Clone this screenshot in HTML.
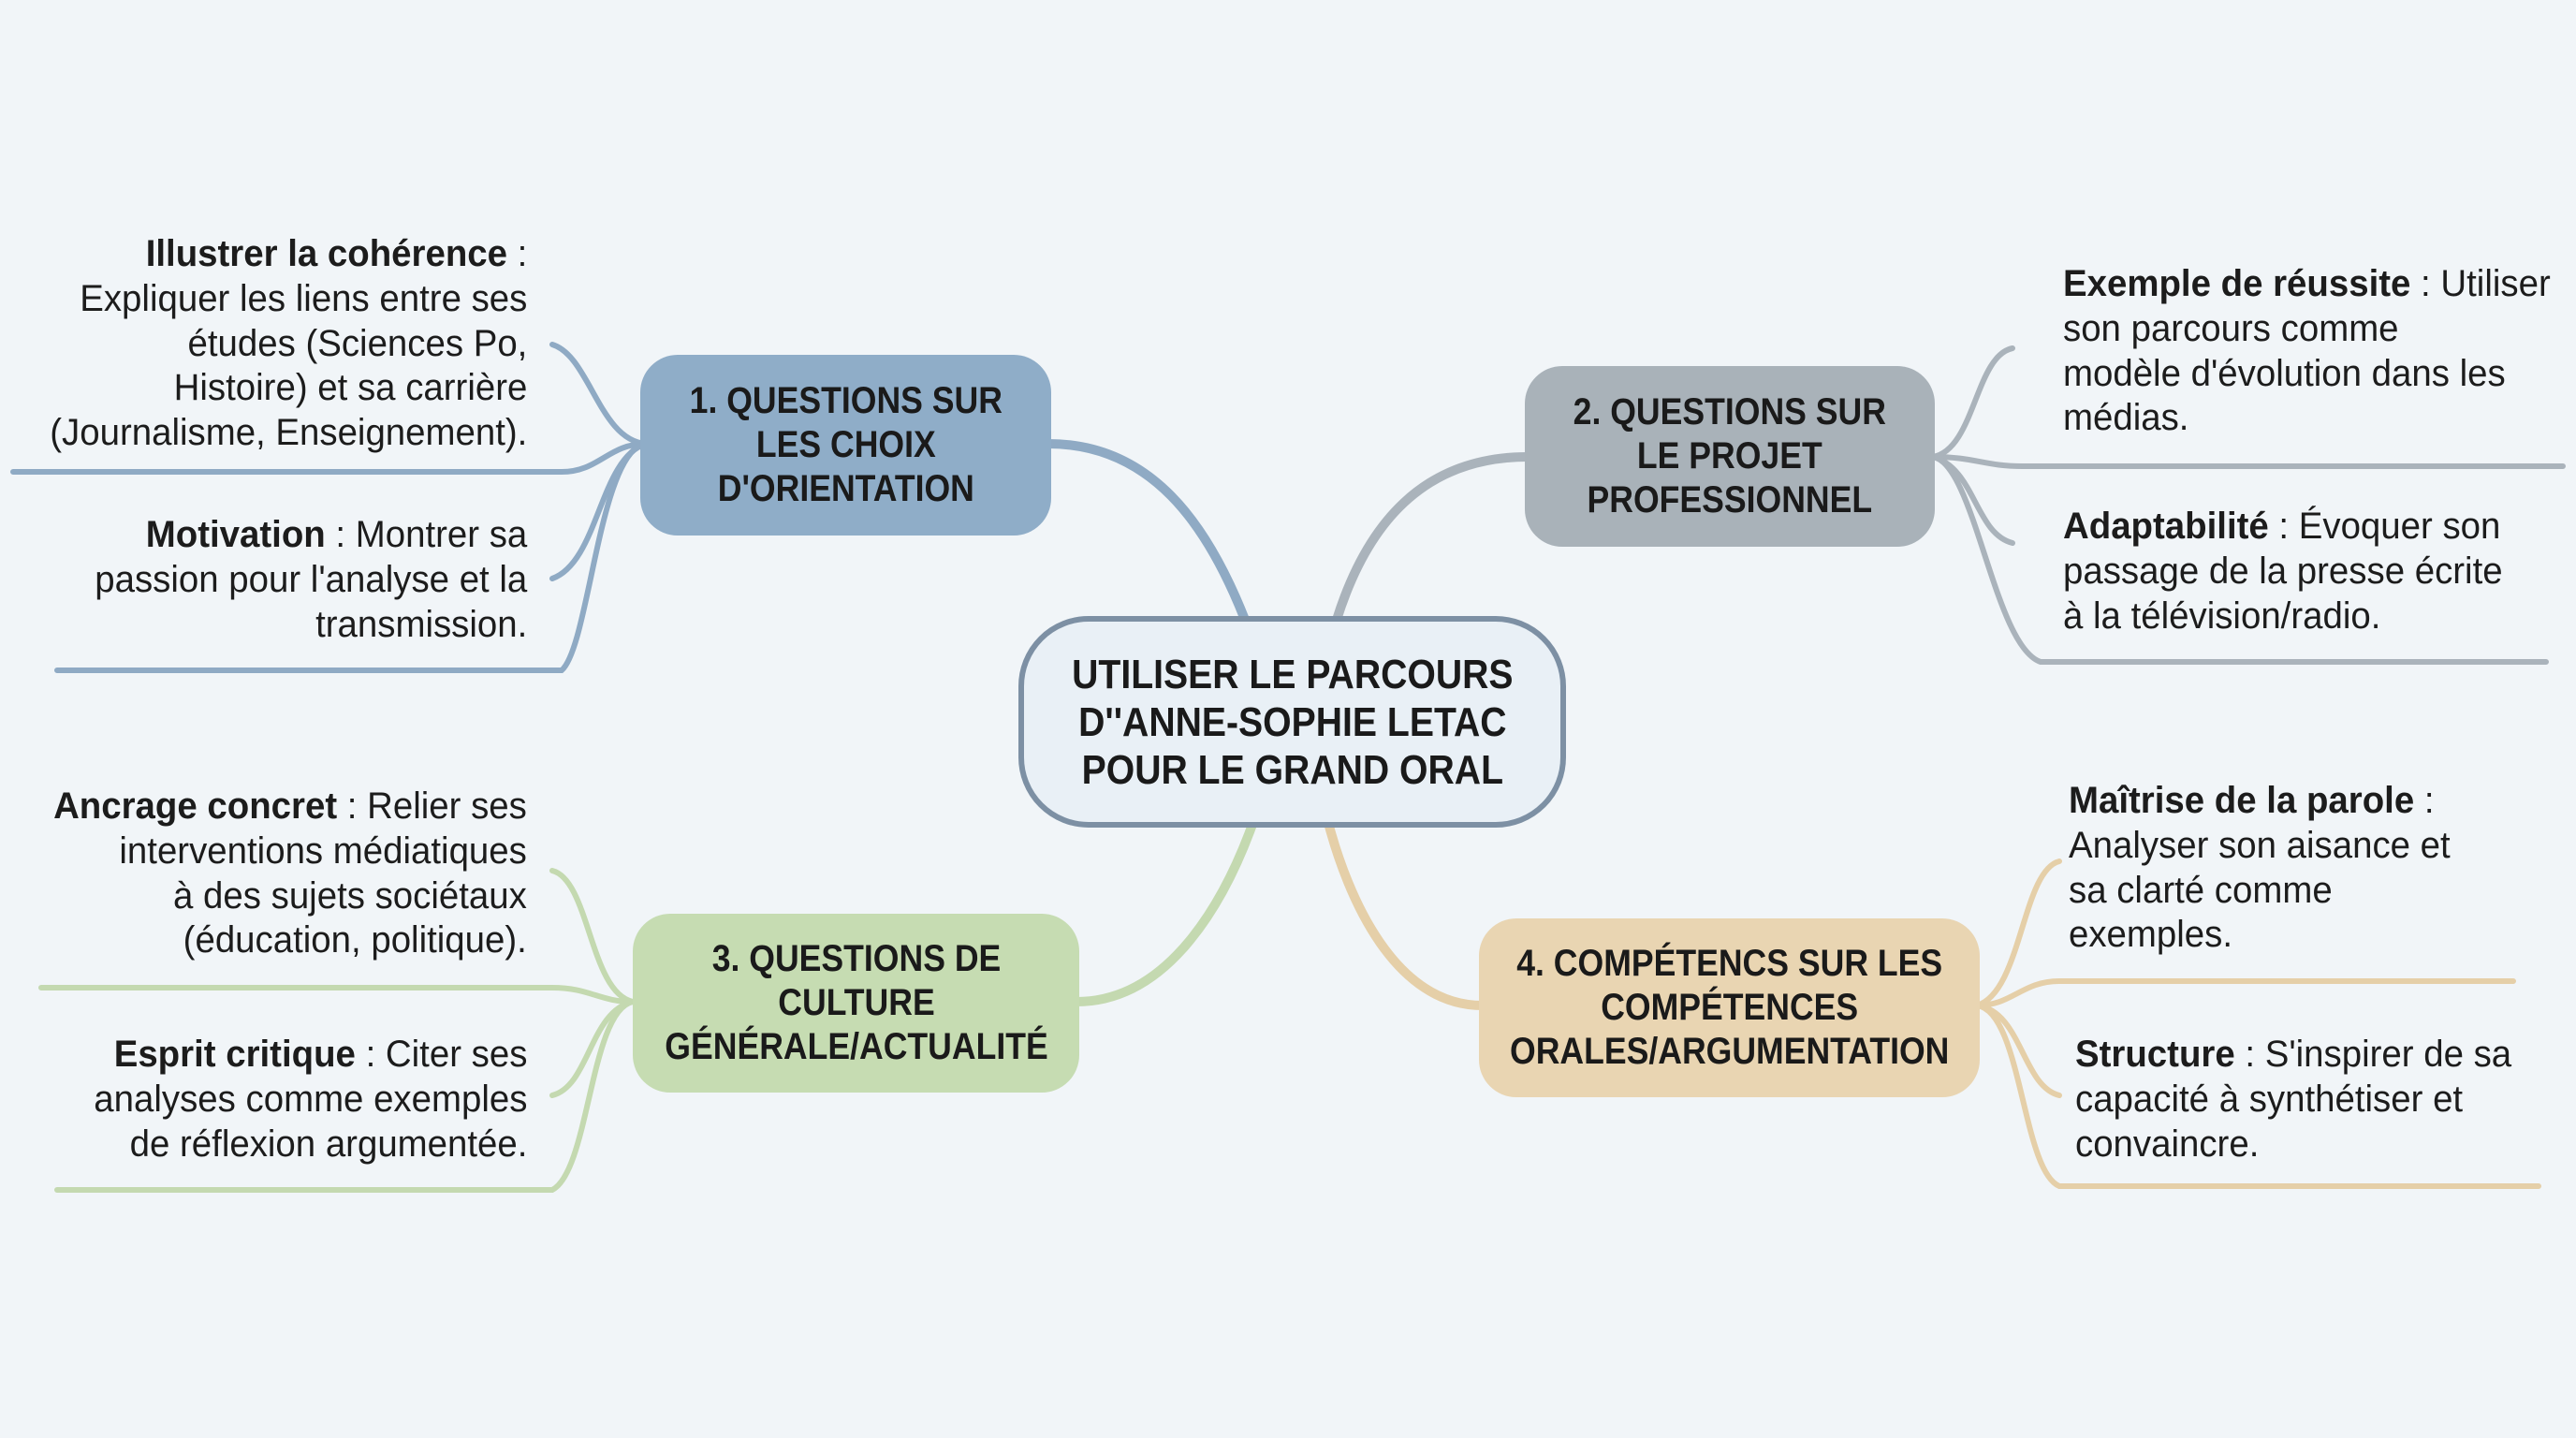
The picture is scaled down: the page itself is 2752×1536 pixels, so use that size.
<!DOCTYPE html>
<html><head><meta charset="utf-8">
<style>
body{margin:0;width:2752px;height:1536px;background:#f1f5f8;overflow:hidden;position:relative;font-family:"Liberation Sans Narrow","Liberation Sans",sans-serif;color:#1c1c1c}
.t{position:absolute;font-size:40px;line-height:47.8px;white-space:nowrap;transform:scaleX(0.96);transform-origin:left top}
.r{text-align:right;transform-origin:right top}
b{font-weight:bold}
.n{position:absolute;display:flex;align-items:center;justify-content:center;text-align:center;font-weight:bold;font-size:40px;line-height:47px;border-radius:40px;color:#1a1a1a}
.n span{display:inline-block;transform:scaleX(0.89);white-space:nowrap}
</style></head><body>
<svg width="2752" height="1536" style="position:absolute;left:0;top:0" fill="none" stroke-linecap="round">
<path d="M1120 474 C1230 474 1290 560 1330 662" stroke="#8faac4" stroke-width="10"/>
<path d="M1632 488 C1520 488 1460 560 1428 662" stroke="#aab3bb" stroke-width="10"/>
<path d="M1150 1070 C1250 1070 1310 960 1340 875" stroke="#c4d9b0" stroke-width="10"/>
<path d="M1584 1074 C1490 1074 1440 960 1418 875" stroke="#e5cfa8" stroke-width="10"/>
<g stroke="#8faac4" stroke-width="6">
<path d="M690 474 C650 474 640 504 600 504 L14 504"/>
<path d="M690 474 C640 480 630 690 600 716 L61 716"/>
<path d="M690 474 C640 470 630 380 590 368"/>
<path d="M690 474 C640 490 640 600 590 618"/>
</g>
<g stroke="#aab3bb" stroke-width="6">
<path d="M2065 488 C2110 488 2120 498 2160 498 L2738 498"/>
<path d="M2065 488 C2110 495 2130 690 2180 707 L2720 707"/>
<path d="M2065 488 C2110 480 2110 380 2150 372"/>
<path d="M2065 488 C2110 500 2110 570 2150 580"/>
</g>
<g stroke="#c4d9b0" stroke-width="6">
<path d="M676 1070 C640 1070 630 1055 590 1055 L44 1055"/>
<path d="M676 1070 C630 1080 630 1250 590 1271 L61 1271"/>
<path d="M676 1070 C630 1060 630 940 590 930"/>
<path d="M676 1070 C630 1080 630 1160 590 1170"/>
</g>
<g stroke="#e5cfa8" stroke-width="6">
<path d="M2112 1074 C2150 1074 2160 1048 2200 1048 L2685 1048"/>
<path d="M2112 1074 C2160 1080 2160 1250 2200 1267 L2712 1267"/>
<path d="M2112 1074 C2160 1060 2160 930 2200 920"/>
<path d="M2112 1074 C2160 1080 2160 1160 2200 1170"/>
</g>
</svg>

<div class="n" style="left:1088px;top:658px;width:573px;height:214px;background:#e9f0f6;border:6px solid #7d90a4;border-radius:75px;font-size:44px;line-height:51px"><span>UTILISER LE PARCOURS<br>D''ANNE-SOPHIE LETAC<br>POUR LE GRAND ORAL</span></div>
<div class="n" style="left:684px;top:379px;width:439px;height:193px;background:#8fadc8"><span>1. QUESTIONS SUR<br>LES CHOIX<br>D'ORIENTATION</span></div>
<div class="n" style="left:1629px;top:391px;width:438px;height:193px;background:#a9b2b9"><span>2. QUESTIONS SUR<br>LE PROJET<br>PROFESSIONNEL</span></div>
<div class="n" style="left:676px;top:976px;width:477px;height:191px;background:#c6dcb2"><span>3. QUESTIONS DE<br>CULTURE<br>GÉNÉRALE/ACTUALITÉ</span></div>
<div class="n" style="left:1580px;top:981px;width:535px;height:191px;background:#e9d5b2"><span>4. COMPÉTENCS SUR LES<br>COMPÉTENCES<br>ORALES/ARGUMENTATION</span></div>

<div class="t r" style="right:2189px;top:248px"><b>Illustrer la cohérence</b> :<br>Expliquer les liens entre ses<br>études (Sciences Po,<br>Histoire) et sa carrière<br>(Journalisme, Enseignement).</div>
<div class="t r" style="right:2189px;top:548px"><b>Motivation</b> : Montrer sa<br>passion pour l'analyse et la<br>transmission.</div>
<div class="t r" style="right:2189px;top:838px"><b>Ancrage concret</b> : Relier ses<br>interventions médiatiques<br>à des sujets sociétaux<br>(éducation, politique).</div>
<div class="t r" style="right:2189px;top:1103px"><b>Esprit critique</b> : Citer ses<br>analyses comme exemples<br>de réflexion argumentée.</div>

<div class="t" style="left:2204px;top:280px"><b>Exemple de réussite</b> : Utiliser<br>son parcours comme<br>modèle d'évolution dans les<br>médias.</div>
<div class="t" style="left:2204px;top:539px"><b>Adaptabilité</b> : Évoquer son<br>passage de la presse écrite<br>à la télévision/radio.</div>
<div class="t" style="left:2210px;top:832px"><b>Maîtrise de la parole</b> :<br>Analyser son aisance et<br>sa clarté comme<br>exemples.</div>
<div class="t" style="left:2217px;top:1103px"><b>Structure</b> : S'inspirer de sa<br>capacité à synthétiser et<br>convaincre.</div>
</body></html>
